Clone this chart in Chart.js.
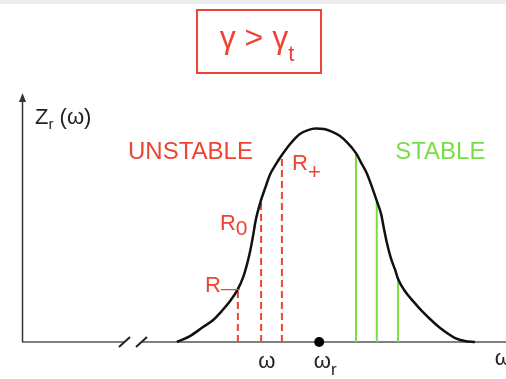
<!DOCTYPE html>
<html lang="en">
<head>
    <meta charset="UTF-8">
    <title>Zr(ω) – γ &gt; γt</title>
    <script src="https://cdn.jsdelivr.net/npm/chart.js"></script>
    <style>
        body {
            margin: 0;
            background: #ffffff;
            font-family: 'Liberation Sans', Arial, sans-serif;
        }

        .wrap {
            position: relative;
            width: 506px;
            height: 379px;
            overflow: hidden;
        }

        .topline {
            position: absolute;
            left: 0;
            top: 0;
            width: 506px;
            height: 4px;
            background: #eeeeee;
        }

        .box {
            position: absolute;
            left: 196px;
            top: 9px;
            width: 118px;
            padding-right: 4px;
            height: 52px;
            padding-bottom: 9px;
            border: 2.5px solid #ee4433;
            color: #ee4433;
            font-size: 32px;
            line-height: 52px;
            text-align: center;
            white-space: nowrap;
        }

        .box .sub {
            position: relative;
            top: 13px;
            font-size: 22px;
        }

        canvas {
            position: absolute;
            left: 0;
            top: 0;
        }
    </style>
</head>
<body>
    <div class="wrap">
        <div class="topline"></div>
        <canvas id="resonance" width="506" height="379"></canvas>
        <div class="box">γ &gt; γ<span class="sub">t</span></div>
    </div>
    <script>
        // impedance curve Zr(ω), arbitrary units
        const curveOmega = [32.0, 34.7, 37.4, 39.5, 41.3, 43.0, 44.6, 45.7, 46.5, 47.1, 47.7, 48.3, 49.4, 50.4,
                            51.2, 52.5, 53.7, 55.4, 57.4, 59.1, 60.7, 62.4, 64.0, 65.7, 67.1, 69.0, 70.2, 71.3,
                            72.3, 73.3, 74.2, 74.8, 75.4, 76.2, 77.1, 77.7, 79.1, 80.8, 82.6, 84.3, 86.4, 87.8,
                            89.5, 91.5, 93.6];
        const curveZ = [0, 2.4, 6.1, 9.0, 12.7, 16.7, 21.6, 26.5, 31.8, 36.7, 42.9, 49.8, 58.0, 63.7,
                        68.2, 72.7, 76.3, 80.8, 84.9, 86.5, 87.1, 86.9, 85.9, 84.1, 81.6, 77.1, 72.7, 68.6,
                        63.3, 57.6, 52.2, 46.1, 40.4, 34.3, 29.4, 25.7, 20.8, 16.7, 12.7, 9.4, 5.7, 3.7,
                        1.6, 0.4, 0];

        // unstable (dashed red) and stable (green) modes
        const unstableOmega = [44.6, 49.4, 53.7];
        const unstableZ = [21.6, 58.0, 76.3];
        const unstableNames = ['R', 'R', 'R'];
        const unstableSubs = ['—', '0', '+'];
        const stableOmega = [69.0, 73.3, 77.7];
        const stableZ = [77.1, 57.6, 25.7];

        const resonanceOmega = 61.4;

        const RED = '#ee4433';
        const GREEN = '#77dd44';
        const FONT = "'Liberation Sans', Arial, sans-serif";

        const curveData = curveOmega.map((x, i) => ({ x: x, y: curveZ[i] }));

        const datasets = [
            {
                label: 'ωr',
                data: [{ x: resonanceOmega, y: 0 }],
                pointRadius: 5,
                pointBackgroundColor: '#000000',
                pointBorderWidth: 0,
                showLine: false,
                clip: false
            },
            {
                label: 'Zr',
                data: curveData,
                borderColor: '#111111',
                borderWidth: 2.5,
                pointRadius: 0,
                showLine: true,
                cubicInterpolationMode: 'monotone',
                clip: false
            }
        ];

        unstableOmega.forEach((w, i) => {
            datasets.push({
                label: unstableNames[i] + unstableSubs[i],
                data: [{ x: w, y: 0 }, { x: w, y: unstableZ[i] }],
                borderColor: RED,
                borderWidth: 2,
                borderDash: [7, 4],
                pointRadius: 0,
                showLine: true,
                clip: false
            });
        });

        stableOmega.forEach((w, i) => {
            datasets.push({
                label: 'stable ' + (i + 1),
                data: [{ x: w, y: 0 }, { x: w, y: stableZ[i] }],
                borderColor: GREEN,
                borderWidth: 2,
                pointRadius: 0,
                showLine: true,
                clip: false
            });
        });

        function textWithSub(ctx, main, sub, x, y, size, subSize, drop, color) {
            ctx.fillStyle = color;
            ctx.font = size + 'px ' + FONT;
            ctx.fillText(main, x, y);
            const w = ctx.measureText(main).width;
            ctx.font = subSize + 'px ' + FONT;
            ctx.fillText(sub, x + w, y + drop);
            return w + ctx.measureText(sub).width;
        }

        const axesPlugin = {
            id: 'axesPlugin',
            beforeDatasetsDraw(chart) {
                const ctx = chart.ctx;
                const area = chart.chartArea;
                const base = area.bottom;
                ctx.save();
                // baseline with a break
                ctx.strokeStyle = '#808080';
                ctx.lineWidth = 2;
                ctx.beginPath();
                ctx.moveTo(area.left, base);
                ctx.lineTo(125, base);
                ctx.moveTo(141, base);
                ctx.lineTo(area.right, base);
                ctx.stroke();
                ctx.strokeStyle = '#222222';
                ctx.lineWidth = 2;
                ctx.beginPath();
                ctx.moveTo(119, base + 5);
                ctx.lineTo(130, base - 5);
                ctx.moveTo(136, base + 5);
                ctx.lineTo(147, base - 5);
                ctx.stroke();
                // vertical axis with arrow
                ctx.strokeStyle = '#333333';
                ctx.lineWidth = 1.5;
                ctx.beginPath();
                ctx.moveTo(area.left + 0.5, base);
                ctx.lineTo(area.left + 0.5, area.top + 4);
                ctx.stroke();
                ctx.fillStyle = '#333333';
                ctx.beginPath();
                ctx.moveTo(area.left + 0.5, area.top - 4);
                ctx.lineTo(area.left - 3, area.top + 5);
                ctx.lineTo(area.left + 4, area.top + 5);
                ctx.closePath();
                ctx.fill();
                ctx.restore();
            },
            afterDatasetsDraw(chart) {
                const ctx = chart.ctx;
                const xs = chart.scales.x;
                const ys = chart.scales.y;
                const px = v => xs.getPixelForValue(v);
                const py = v => ys.getPixelForValue(v);
                ctx.save();
                ctx.textBaseline = 'alphabetic';
                ctx.textAlign = 'left';

                // axis titles
                const zw = textWithSub(ctx, 'Z', 'r', px(2.7), py(89.0), 22, 15, 5, '#222222');
                ctx.font = '22px ' + FONT;
                ctx.fillText(' (ω)', px(2.7) + zw, py(89.0));
                ctx.fillText('ω', px(97.7), py(-9.4));

                // tick-like labels under the axis
                ctx.textAlign = 'center';
                ctx.fillText('ω', px(50.6), py(-10.6));
                ctx.textAlign = 'left';
                textWithSub(ctx, 'ω', 'r', px(60.3), py(-10.6), 22, 17, 7, '#222222');

                // region labels
                ctx.font = '24px ' + FONT;
                ctx.fillStyle = RED;
                ctx.fillText('UNSTABLE', px(21.9), py(74.7));
                ctx.fillStyle = GREEN;
                ctx.fillText('STABLE', px(77.1), py(74.7));

                // mode labels
                textWithSub(ctx, unstableNames[0], unstableSubs[0], px(37.8), py(20.4), 22, 19, 2, RED);
                textWithSub(ctx, unstableNames[1], unstableSubs[1], px(40.9), py(45.7), 22, 21, 5, RED);
                textWithSub(ctx, unstableNames[2], unstableSubs[2], px(55.8), py(70.2), 22, 22, 9, RED);
                ctx.restore();
            }
        };

        new Chart(document.getElementById('resonance').getContext('2d'), {
            type: 'scatter',
            data: { datasets: datasets },
            options: {
                responsive: false,
                animation: false,
                events: [],
                layout: { autoPadding: false, padding: { left: 22, right: 0, top: 97, bottom: 37 } },
                plugins: {
                    legend: { display: false },
                    tooltip: { enabled: false }
                },
                scales: {
                    x: { type: 'linear', min: 0, max: 100, display: false },
                    y: { type: 'linear', min: 0, max: 100, display: false }
                }
            },
            plugins: [axesPlugin]
        });
    </script>
</body>
</html>
